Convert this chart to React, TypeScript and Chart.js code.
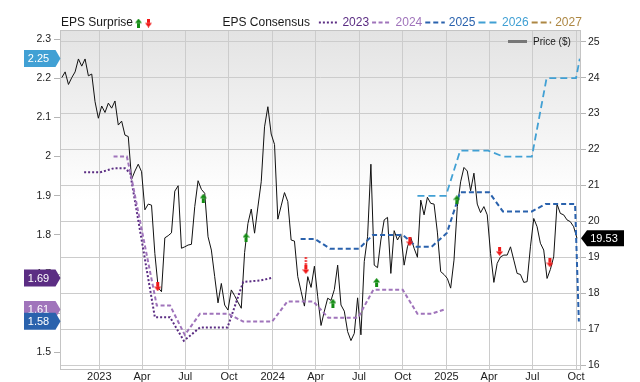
import React, { useEffect, useRef } from 'react';
import { Chart, registerables } from 'chart.js';

Chart.register(...registerables);

const FONT = '"Liberation Sans", Arial, Helvetica, sans-serif';

// ---- Data (x = days since 2023-01-01) ----
const BASE = '2023-01-01';
const priceStart = '2022-10-14'; // weekly closes from this date
const priceWeekly = [
  24.0, 24.16, 23.81, 24.0, 24.16, 24.52, 24.32, 24.52, 24.05, 24.1,
  23.33, 22.87, 23.21, 23.03, 23.29, 23.15, 23.35, 22.68, 22.79, 22.4,
  22.36, 21.17, 21.4, 21.59, 21.38, 20.32, 20.48, 20.45, 19.1, 18.15,
  18.04, 19.54, 19.6, 19.68, 20.84, 20.99, 19.25, 19.29, 19.34, 19.36,
  20.41, 21.13, 20.89, 20.78, 19.57, 19.2, 18.46, 17.73, 18.27, 17.67,
  17.53, 18.09, 17.93, 17.75, 17.58, 19.13, 19.94, 20.34, 19.67, 20.4,
  21.1, 22.63, 23.19, 22.43, 22.14, 20.06, 20.43, 20.8, 20.55, 19.48,
  19.45, 18.46, 18.05, 17.64, 18.46, 18.16, 18.75, 17.9, 17.1, 17.5,
  17.86, 17.8, 18.1, 18.78, 17.67, 17.5, 16.93, 16.68, 16.88, 17.87,
  16.84, 18.88, 19.57, 21.59, 18.78, 18.71, 19.48, 20.04, 20.11, 18.55,
  19.74, 19.48, 19.65, 18.78, 19.29, 19.55, 19.25, 19.0, 20.59, 20.18,
  20.67, 20.5, 20.48, 19.7, 18.6, 18.52, 18.41, 18.14, 18.92, 20.41,
  21.1, 21.5, 21.4, 20.85, 21.34, 20.48, 20.24, 20.41, 20.18, 19.11,
  18.3, 18.83, 19.01, 19.06, 19.06, 19.29, 18.92, 18.55, 18.52, 18.3,
  18.32, 19.29, 20.08, 19.85, 19.39, 19.2, 18.41, 18.66, 19.01, 20.48,
  20.22, 20.18, 20.04, 19.99, 19.85, 19.53,
];
const lastPrice = 19.53;

const eps2023Days = [-32, 2, 30, 54, 65, 117, 149, 178, 212, 270, 303, 339, 362];
const eps2023 = [1.96, 1.96, 1.97, 1.97, 1.958, 1.59, 1.59, 1.53, 1.564, 1.564, 1.68, 1.684, 1.69];

const eps2024Days = [30, 58, 67, 121, 149, 180, 212, 271, 303, 364, 396, 451, 482, 545, 577, 639, 670, 700, 730];
const eps2024 = [2.0, 2.0, 1.95, 1.62, 1.62, 1.545, 1.599, 1.599, 1.579, 1.579, 1.63, 1.63, 1.589, 1.589, 1.66, 1.66, 1.599, 1.599, 1.611];

const eps2025Days = [424, 454, 486, 547, 576, 639, 668, 700, 732, 760, 821, 850, 911, 940, 1002, 1010];
const eps2025 = [1.79, 1.79, 1.765, 1.765, 1.8, 1.8, 1.77, 1.77, 1.805, 1.909, 1.909, 1.86, 1.86, 1.879, 1.879, 1.579];

const eps2026Days = [670, 730, 760, 819, 851, 911, 942, 1004, 1012];
const eps2026 = [1.9, 1.9, 2.015, 2.015, 2.0, 2.0, 2.2, 2.2, 2.25];

const eps2027Days: number[] = [];
const eps2027: number[] = [];

const surpriseDays = [123, 219, 309, 435, 492, 584, 654, 753, 843, 949];
const surpriseValues = [1.668, 1.894, 1.794, 1.722, 1.626, 1.679, 1.783, 1.89, 1.758, 1.729];
const surpriseKinds = ['down', 'up', 'up', 'downDotted', 'up', 'up', 'down', 'up', 'down', 'down'];

const seriesNames = ['2023', '2024', '2025', '2026', '2027'];
const seriesColors = ['#5b2d83', '#a074bb', '#2a62ad', '#41a0d4', '#ad8743'];
const seriesDashes = [[2, 2], [4, 2.5], [5, 3], [7, 4], [6, 3]];
const seriesWidths = [2, 2, 2, 1.8, 2];

const latestLabels = ['2.25', '1.69', '1.61', '1.58'];
const latestValues = [2.25, 1.69, 1.61, 1.58];
const latestColors = ['#41a0d4', '#5b2d83', '#a074bb', '#2a62ad'];

const tickDates = ['2023-01-01', '2023-04-01', '2023-07-01', '2023-10-01', '2024-01-01', '2024-04-01', '2024-07-01', '2024-10-01', '2025-01-01', '2025-04-01', '2025-07-01', '2025-10-01'];
const tickLabels = ['2023', 'Apr', 'Jul', 'Oct', '2024', 'Apr', 'Jul', 'Oct', '2025', 'Apr', 'Jul', 'Oct'];
const epsTicks = [1.5, 1.6, 1.7, 1.8, 1.9, 2, 2.1, 2.2, 2.3];
const priceTicks = [16, 17, 18, 19, 20, 21, 22, 23, 24, 25];

const X_MIN = -80.7;
const X_MAX = 1012.4;
const EPS_MIN = 1.458;
const EPS_MAX = 2.323;
const P_MIN = 15.889;
const P_MAX = 25.326;

const dayOf = (s: string) => Math.round((Date.parse(s) - Date.parse(BASE)) / 86400000);
const tickDays = tickDates.map(dayOf);

const GREEN = '#138c13';
const RED = '#f01818';

function makeArrow(kind: string): HTMLCanvasElement {
  const c = document.createElement('canvas');
  const w = 7;
  const h = kind === 'downDotted' ? 17 : 9;
  c.width = w;
  c.height = h;
  const g = c.getContext('2d')!;
  if (kind === 'up') {
    g.fillStyle = GREEN;
    g.beginPath();
    g.moveTo(3.5, 0);
    g.lineTo(7, 4.5);
    g.lineTo(0, 4.5);
    g.closePath();
    g.fill();
    g.fillRect(2, 4.5, 3, 4.5);
  } else {
    g.fillStyle = RED;
    const off = h - 9;
    if (kind === 'downDotted') {
      for (let yy = 0; yy < off; yy += 3) g.fillRect(2.5, yy, 2, 2);
    }
    g.fillRect(2, off, 3, 4.5);
    g.beginPath();
    g.moveTo(0, off + 4.5);
    g.lineTo(7, off + 4.5);
    g.lineTo(3.5, off + 9);
    g.closePath();
    g.fill();
  }
  return c;
}

export default function App() {
  const ref = useRef<HTMLCanvasElement>(null);

  useEffect(() => {
    const canvas = ref.current;
    if (!canvas) return;
    const arrows: Record<string, HTMLCanvasElement> = {
      up: makeArrow('up'),
      down: makeArrow('down'),
      downDotted: makeArrow('downDotted'),
    };

    const startDay = dayOf(priceStart);
    const priceData = priceWeekly.map((v, i) => ({ x: startDay + 7 * i, y: v }));
    const epsSets = [
      [eps2023Days, eps2023],
      [eps2024Days, eps2024],
      [eps2025Days, eps2025],
      [eps2026Days, eps2026],
      [eps2027Days, eps2027],
    ];

    const bgPlugin = {
      id: 'bg',
      beforeDraw(chart: any) {
        const { ctx, chartArea: a } = chart;
        ctx.save();
        ctx.fillStyle = '#ffffff';
        ctx.fillRect(0, 0, chart.width, chart.height);
        const grad = ctx.createLinearGradient(0, a.top, 0, a.bottom);
        grad.addColorStop(0, '#e3e3e3');
        grad.addColorStop(0.5, '#ffffff');
        grad.addColorStop(1, '#ffffff');
        ctx.fillStyle = grad;
        ctx.fillRect(a.left, a.top, a.right - a.left, a.bottom - a.top);
        ctx.restore();
      },
      beforeDatasetsDraw(chart: any) {
        const { ctx, chartArea: a } = chart;
        ctx.save();
        ctx.strokeStyle = '#c4c4c4';
        ctx.lineWidth = 1;
        ctx.strokeRect(Math.round(a.left) - 0.5, Math.round(a.top) + 0.5, Math.round(a.right - a.left) + 1, Math.round(a.bottom - a.top));
        ctx.restore();
      },
    };

    const overlayPlugin = {
      id: 'overlay',
      afterDraw(chart: any) {
        const { ctx, chartArea: a } = chart;
        const yL = chart.scales.yL;
        const yR = chart.scales.yR;
        ctx.save();
        ctx.textBaseline = 'middle';
        // header legend
        const hy = 23;
        ctx.font = `12px ${FONT}`;
        ctx.fillStyle = '#1a1a1a';
        ctx.textAlign = 'left';
        ctx.fillText('EPS Surprise', 61, hy);
        ctx.drawImage(arrows.up, 135, hy - 4.5);
        ctx.drawImage(arrows.down, 145, hy - 4.5);
        ctx.fillStyle = '#1a1a1a';
        ctx.fillText('EPS Consensus', 222.5, hy);
        let x = 222.5 + ctx.measureText('EPS Consensus').width + 9;
        seriesNames.forEach((name, i) => {
          ctx.save();
          ctx.strokeStyle = seriesColors[i];
          ctx.lineWidth = seriesWidths[i];
          ctx.setLineDash(seriesDashes[i]);
          ctx.beginPath();
          ctx.moveTo(x, hy - 0.5);
          ctx.lineTo(x + 19.5, hy - 0.5);
          ctx.stroke();
          ctx.restore();
          x += 23.5;
          ctx.fillStyle = seriesColors[i];
          ctx.fillText(name, x, hy);
          x += ctx.measureText(name).width + 3;
        });
        // price legend
        ctx.strokeStyle = '#777777';
        ctx.lineWidth = 3;
        ctx.setLineDash([]);
        ctx.beginPath();
        ctx.moveTo(a.right - 72, 41.5);
        ctx.lineTo(a.right - 53, 41.5);
        ctx.stroke();
        ctx.font = `10px ${FONT}`;
        ctx.fillStyle = '#1a1a1a';
        ctx.fillText('Price ($)', a.right - 47, 42);
        // left value boxes
        ctx.font = `11px ${FONT}`;
        latestValues.forEach((v, i) => {
          const cy = yL.getPixelForValue(v);
          const tip = a.left - 0.5;
          ctx.fillStyle = latestColors[i];
          ctx.beginPath();
          ctx.moveTo(24, cy - 8.5);
          ctx.lineTo(tip - 5, cy - 8.5);
          ctx.lineTo(tip, cy);
          ctx.lineTo(tip - 5, cy + 8.5);
          ctx.lineTo(24, cy + 8.5);
          ctx.closePath();
          ctx.fill();
          ctx.fillStyle = '#ffffff';
          ctx.textAlign = 'center';
          ctx.fillText(latestLabels[i], 38.5, cy + 0.5);
        });
        // right price box
        const py = yR.getPixelForValue(lastPrice);
        const rt = a.right + 1;
        ctx.fillStyle = '#000000';
        ctx.beginPath();
        ctx.moveTo(rt, py);
        ctx.lineTo(rt + 6, py - 8);
        ctx.lineTo(624, py - 8);
        ctx.lineTo(624, py + 8);
        ctx.lineTo(rt + 6, py + 8);
        ctx.closePath();
        ctx.fill();
        ctx.fillStyle = '#ffffff';
        ctx.textAlign = 'center';
        ctx.fillText(lastPrice.toFixed(2), 604, py + 0.5);
        ctx.restore();
      },
    };

    const datasets: any[] = [
      {
        label: 'Price ($)',
        data: priceData,
        yAxisID: 'yR',
        borderColor: '#111111',
        borderWidth: 1,
        pointRadius: 0,
        tension: 0,
        fill: false,
        order: 6,
      },
      ...epsSets.map(([days, vals], i) => ({
        label: seriesNames[i],
        data: (days as number[]).map((d, k) => ({ x: d, y: (vals as number[])[k] })),
        yAxisID: 'yL',
        borderColor: seriesColors[i],
        borderWidth: seriesWidths[i],
        borderDash: seriesDashes[i],
        pointRadius: 0,
        tension: 0,
        fill: false,
        order: 5 - i,
      })),
      {
        label: 'EPS Surprise',
        type: 'scatter',
        data: surpriseDays.map((d, k) => ({ x: d, y: surpriseValues[k] })),
        yAxisID: 'yL',
        showLine: false,
        pointStyle: (c: any) => arrows[surpriseKinds[c.dataIndex]] || 'circle',
        pointRadius: 4,
        order: 0,
      },
    ];

    const tickFont = { family: FONT, size: 10.5 };

    const chart = new Chart(canvas, {
      type: 'line',
      data: { datasets },
      options: {
        animation: false,
        responsive: false,
        devicePixelRatio: 1,
        events: [],
        layout: { padding: { top: 30, left: 0, right: 0, bottom: 0 } },
        plugins: { legend: { display: false }, tooltip: { enabled: false } },
        scales: {
          x: {
            type: 'linear',
            min: X_MIN,
            max: X_MAX,
            afterFit: (s: any) => {
              s.height = 13;
            },
            afterBuildTicks: (s: any) => {
              s.ticks = tickDays.map((v) => ({ value: v }));
            },
            ticks: {
              autoSkip: false,
              maxRotation: 0,
              padding: 1,
              color: '#222222',
              font: { family: FONT, size: 11 },
              callback: (v: any) => {
                const i = tickDays.indexOf(Number(v));
                return i >= 0 ? tickLabels[i] : '';
              },
            },
            grid: { color: '#cccccc', drawTicks: false },
            border: { display: false },
          },
          yL: {
            type: 'linear',
            position: 'left',
            min: EPS_MIN,
            max: EPS_MAX,
            afterFit: (s: any) => {
              s.width = 61;
            },
            afterBuildTicks: (s: any) => {
              s.ticks = epsTicks.map((v) => ({ value: v }));
            },
            ticks: {
              padding: 3,
              color: '#222222',
              font: tickFont,
              callback: (v: any) => String(v),
            },
            grid: { drawOnChartArea: false, tickLength: 7, color: '#b5b5b5' },
            border: { display: false },
          },
          yR: {
            type: 'linear',
            position: 'right',
            min: P_MIN,
            max: P_MAX,
            afterFit: (s: any) => {
              s.width = 60;
            },
            afterBuildTicks: (s: any) => {
              s.ticks = priceTicks.map((v) => ({ value: v }));
            },
            ticks: {
              padding: 2,
              color: '#222222',
              font: tickFont,
              callback: (v: any) => String(v),
            },
            grid: { color: '#cccccc', tickLength: 6, tickColor: '#b5b5b5' },
            border: { display: false },
          },
        },
      } as any,
      plugins: [bgPlugin, overlayPlugin],
    });

    return () => {
      chart.destroy();
    };
  }, []);

  return (
    <div style={{ position: 'fixed', left: 0, top: 0, width: 640, height: 382, background: '#ffffff' }}>
      <canvas ref={ref} width={640} height={382} style={{ display: 'block', width: 640, height: 382 }} />
    </div>
  );
}
